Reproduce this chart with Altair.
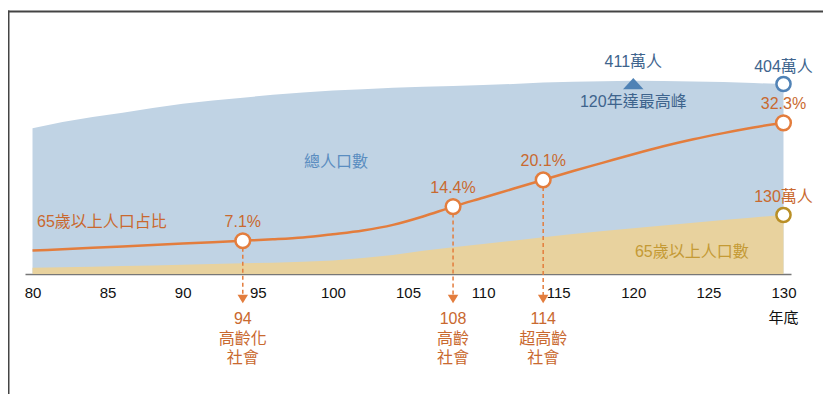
import altair as alt
import pandas as pd

# ---------------- data ----------------
years = [80, 82, 84, 86, 88, 90, 92, 94, 96, 98, 100, 102, 104, 106, 108,
         110, 112, 114, 116, 118, 120, 122, 124, 126, 128, 130]
total_pop = [310, 323, 334, 343, 353, 362, 369, 375, 381, 386, 390, 393, 396,
             398, 400, 402, 404, 407, 409, 410, 411, 410.5, 409.5, 408, 406, 404]
elderly_pop = [14, 15, 16, 17.5, 19, 20.5, 22, 23.5, 25, 27, 30, 35, 42, 51, 59,
               66, 73.5, 81, 88, 95, 101, 107, 113, 119, 124.5, 130]
elderly_pct = [5.0, 5.3, 5.6, 5.9, 6.2, 6.5, 6.8, 7.1, 7.4, 7.8, 8.5, 9.3, 10.5,
               12.3, 14.4, 16.3, 18.2, 20.1, 22.0, 23.8, 25.6, 27.3, 28.8, 30.1,
               31.3, 32.3]

mark_years = [94, 108, 114, 130]
mark_pcts = [7.1, 14.4, 20.1, 32.3]
mark_pct_labels = ["7.1%", "14.4%", "20.1%", "32.3%"]

stage_years = [94, 108, 114]
stage_pcts = [7.1, 14.4, 20.1]
stage_labels = ["94\n高齡化\n社會", "108\n高齡\n社會", "114\n超高齡\n社會"]

peak_year, peak_value = 120, 411
end_year, end_total, end_elderly = 130, 404, 130

tick_values = [80, 85, 90, 95, 100, 105, 110, 115, 120, 125, 130]

# ---------------- styling ----------------
W, H = 766, 254
POP_MAX = 540.1
OLD_MAX = 559.7
PCT_MAX = 54.27
FONT = "Liberation Sans, Noto Sans CJK TC"

BLUE_AREA = "#c0d3e4"
TAN_AREA = "#e8d29e"
ORANGE = "#e37d3d"
ORANGE_TXT = "#c9692f"
BLUE_TXT = "#3e648d"
BLUE_MID = "#5a8dc0"
GOLD_TXT = "#c49a35"
GOLD = "#b98f25"

df = pd.DataFrame({"year": years, "total": total_pop,
                   "elderly": elderly_pop, "pct": elderly_pct})
df_marks = pd.DataFrame({"year": mark_years, "pct": mark_pcts, "label": mark_pct_labels})
df_stage = pd.DataFrame({"year": stage_years, "pct": stage_pcts, "label": stage_labels})

xsc = alt.Scale(domain=[79.5, 130.5], nice=False)
ypop = alt.Scale(domain=[0, POP_MAX], nice=False, zero=True)
yold = alt.Scale(domain=[0, OLD_MAX], nice=False, zero=True)
ypct = alt.Scale(domain=[0, PCT_MAX], nice=False, zero=True)

x_axis = alt.Axis(values=tick_values, format="d", ticks=False, grid=False,
                  domainColor="#777777", domainWidth=1.5, labelFontSize=15,
                  labelColor="#111111", labelPadding=11, labelFont="Liberation Sans",
                  title=None)


def X(field="year"):
    return alt.X(f"{field}:Q", scale=xsc, axis=x_axis, title=None)


# frame lines (decoration)
frame_df = pd.DataFrame({"year": [80]})
frame_top = alt.Chart(frame_df).mark_rule(color="#444444", strokeWidth=2).encode(
    x=alt.value(-18), x2=alt.value(800), y=alt.value(-8.5))
frame_left = alt.Chart(frame_df).mark_rule(color="#444444", strokeWidth=2).encode(
    x=alt.value(-16.5), y=alt.value(-9.5), y2=alt.value(400))

base = alt.Chart(df)

area_total = base.mark_area(color=BLUE_AREA, opacity=1).encode(
    x=X(), y=alt.Y("total:Q", scale=ypop, axis=None))

area_old = base.mark_area(color=TAN_AREA, opacity=1).encode(
    x=X(), y=alt.Y("elderly:Q", scale=yold, axis=None))

line_pct = base.mark_line(color=ORANGE, strokeWidth=2.5, interpolate="monotone").encode(
    x=X(), y=alt.Y("pct:Q", scale=ypct, axis=None))

stage = alt.Chart(df_stage)
dash_rules = stage.mark_rule(color=ORANGE, strokeWidth=1.5, strokeDash=[4, 3], y2Offset=21).encode(
    x=X(), y=alt.Y("pct:Q", scale=ypct, axis=None), y2=alt.datum(0))

arrow_heads = stage.mark_point(shape="M-1,-0.8L1,-0.8L0,0.8Z", filled=True, size=110,
                               color=ORANGE, opacity=1, yOffset=25).encode(
    x=X(), y=alt.Y(datum=0, scale=ypct, axis=None))

stage_text = stage.mark_text(lineBreak="\n", lineHeight=19.5, fontSize=16, color=ORANGE_TXT,
                             baseline="top", align="center", dy=37, font=FONT).encode(
    x=X(), y=alt.Y(datum=0, scale=ypct, axis=None), text="label:N")

year_end_txt = alt.Chart(pd.DataFrame({"year": [end_year], "label": ["年底"]})).mark_text(
    fontSize=15, color="#111111", baseline="middle", align="center", dy=44, font=FONT).encode(
    x=X(), y=alt.Y(datum=0, scale=ypct, axis=None), text="label:N")

marks = alt.Chart(df_marks)
mark_circles = marks.mark_point(shape="circle", filled=True, fill="white", stroke=ORANGE,
                                strokeWidth=2.5, size=215, opacity=1).encode(
    x=X(), y=alt.Y("pct:Q", scale=ypct, axis=None))
mark_labels = marks.mark_text(fontSize=16, color=ORANGE_TXT, dy=-18.5, baseline="middle",
                              font=FONT).encode(
    x=X(), y=alt.Y("pct:Q", scale=ypct, axis=None), text="label:N")

pct_title = alt.Chart(pd.DataFrame({"year": [80.3], "pct": [11.1], "label": ["65歲以上人口占比"]})).mark_text(
    fontSize=16, color=ORANGE_TXT, align="left", baseline="middle", font=FONT).encode(
    x=X(), y=alt.Y("pct:Q", scale=ypct, axis=None), text="label:N")

total_title = alt.Chart(pd.DataFrame({"year": [100.2], "v": [238.8], "label": ["總人口數"]})).mark_text(
    fontSize=16, color=BLUE_MID, align="center", baseline="middle", font=FONT).encode(
    x=X(), y=alt.Y("v:Q", scale=ypop, axis=None), text="label:N")

old_title = alt.Chart(pd.DataFrame({"year": [123.9], "v": [49.1], "label": ["65歲以上人口數"]})).mark_text(
    fontSize=16, color=GOLD_TXT, align="center", baseline="middle", font=FONT).encode(
    x=X(), y=alt.Y("v:Q", scale=yold, axis=None), text="label:N")

peak_df = pd.DataFrame({"year": [peak_year], "v": [peak_value],
                        "top": [f"{peak_value}萬人"], "bottom": [f"{peak_year}年達最高峰"]})
peak = alt.Chart(peak_df)
peak_tri = peak.mark_point(shape="M0,-0.55L1,0.55L-1,0.55Z", filled=True, size=420,
                           color="#4f82b5", opacity=1, yOffset=3).encode(
    x=X(), y=alt.Y("v:Q", scale=ypop, axis=None))
peak_top = peak.mark_text(fontSize=16, color=BLUE_TXT, dy=-19, baseline="middle", font=FONT).encode(
    x=X(), y=alt.Y("v:Q", scale=ypop, axis=None), text="top:N")
peak_bot = peak.mark_text(fontSize=16, color=BLUE_TXT, dy=21, baseline="middle", font=FONT).encode(
    x=X(), y=alt.Y("v:Q", scale=ypop, axis=None), text="bottom:N")

end_df = pd.DataFrame({"year": [end_year], "v": [end_total], "label": [f"{end_total}萬人"]})
end_c = alt.Chart(end_df).mark_point(shape="circle", filled=True, fill="white", stroke="#5183b6",
                                     strokeWidth=2.5, size=200, opacity=1).encode(
    x=X(), y=alt.Y("v:Q", scale=ypop, axis=None))
end_t = alt.Chart(end_df).mark_text(fontSize=16, color=BLUE_TXT, dy=-17, baseline="middle", font=FONT).encode(
    x=X(), y=alt.Y("v:Q", scale=ypop, axis=None), text="label:N")

old_df = pd.DataFrame({"year": [end_year], "v": [end_elderly], "label": [f"{end_elderly}萬人"]})
old_c = alt.Chart(old_df).mark_point(shape="circle", filled=True, fill="white", stroke=GOLD,
                                     strokeWidth=2.5, size=200, opacity=1).encode(
    x=X(), y=alt.Y("v:Q", scale=yold, axis=None))
old_t = alt.Chart(old_df).mark_text(fontSize=16, color=ORANGE_TXT, dy=-18, baseline="middle", font=FONT).encode(
    x=X(), y=alt.Y("v:Q", scale=yold, axis=None), text="label:N")

chart = alt.layer(
    area_total, area_old, line_pct,
    dash_rules, arrow_heads, stage_text, year_end_txt,
    mark_circles, mark_labels, pct_title, total_title, old_title,
    peak_tri, peak_top, peak_bot, end_c, end_t, old_c, old_t,
    frame_top, frame_left,
).resolve_scale(y="independent").properties(
    width=W, height=H,
    autosize=alt.AutoSizeParams(type="none"),
    padding={"left": 17, "top": 12, "right": 32, "bottom": 120},
    background="white",
).configure_view(stroke=None).configure_text(font=FONT)

chart.save("out.html", embed_options={"renderer": "svg", "actions": False})
